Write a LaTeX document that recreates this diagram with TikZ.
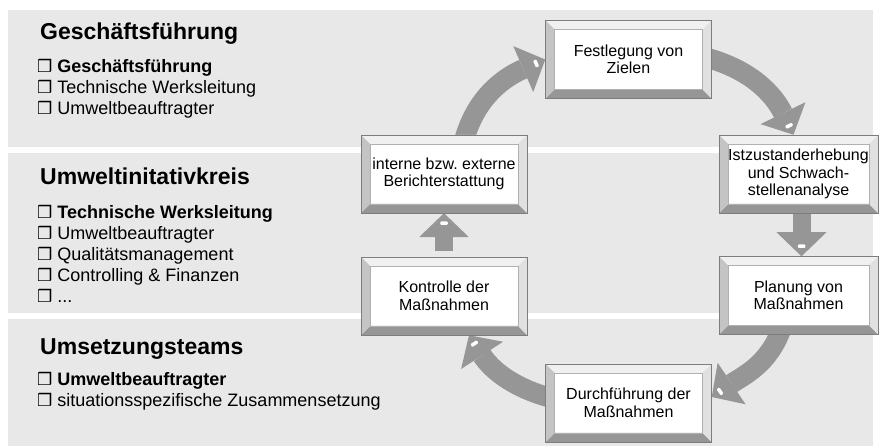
\documentclass[tikz,border=0pt]{standalone}
\usepackage{fontspec}
\setmainfont{Liberation Sans}
\newfontfamily\dingfont{DejaVu Sans}
\usetikzlibrary{arrows.meta,calc,backgrounds}

\definecolor{bandgray}{RGB}{232,232,232}
\definecolor{flowgray}{RGB}{150,150,150}
\definecolor{bvtop}{RGB}{240,240,240}
\definecolor{bvleft}{RGB}{196,196,196}
\definecolor{bvright}{RGB}{224,224,224}
\definecolor{bvbottom}{RGB}{150,150,150}
\definecolor{bvline}{RGB}{125,125,125}

\frenchspacing
\newcommand\headfont{\fontsize{23}{26}\selectfont\bfseries}
\newcommand\itemfont{\fontsize{18}{21}\selectfont}
\newcommand\boxfont{\fontsize{16}{17.5}\selectfont}
\newcommand\boxmark{{\dingfont\bfseries\fontsize{17}{21}\selectfont ❒}}

\begin{document}
\begin{tikzpicture}[x=1pt,y=1pt,
  band/.style={fill=bandgray, draw=none},
  heading/.style={anchor=base west, inner sep=0pt, font=\headfont},
  item/.style={anchor=base west, inner sep=0pt, font=\itemfont},
  stage/.style={minimum width=166pt, minimum height=78pt, inner sep=0pt,
    align=center, font=\boxfont, fill=white, draw=bvline, line width=0.5pt,
    path picture={
      \path (path picture bounding box.north west) coordinate (pNW)
            (path picture bounding box.north east) coordinate (pNE)
            (path picture bounding box.south west) coordinate (pSW)
            (path picture bounding box.south east) coordinate (pSE);
      \fill[bvtop] (pNW) -- (pNE) -- ($(pNE)+(-9,-9)$) -- ($(pNW)+(9,-9)$) -- cycle;
      \fill[bvbottom] (pSW) -- (pSE) -- ($(pSE)+(-9,9)$) -- ($(pSW)+(9,9)$) -- cycle;
      \fill[bvleft] (pNW) -- (pSW) -- ($(pSW)+(9,9)$) -- ($(pNW)+(9,-9)$) -- cycle;
      \fill[bvright] (pNE) -- (pSE) -- ($(pSE)+(-9,9)$) -- ($(pNE)+(-9,-9)$) -- cycle;
      \draw[bvline!60, line width=0.3pt] ($(pNW)+(9,-9)$) rectangle ($(pSE)+(-9,9)$);
    }},
  flow/.style={draw=flowgray, line width=20pt,
    -{Triangle[length=24pt, width=50pt, line width=0pt]}},
  straightflow/.style={flow, line width=18pt},
  glintmark/.style={fill=white, inner sep=0pt, minimum width=7.5pt,
    minimum height=3.5pt, rounded corners=1pt},
  ]
\useasboundingbox (0,0) rectangle (879,447);

% left column: groups and their members
\node[heading] (h1) at (40,407.7) {Geschäftsführung};
\node[item] (i11) at (37,374.5) {\boxmark\ \textbf{Geschäftsführung}};
\node[item] (i12) at (37,353.5) {\boxmark\ Technische Werksleitung};
\node[item] (i13) at (37,332.7) {\boxmark\ Umweltbeauftragter};

\node[heading] (h2) at (40,262) {Umweltinitativkreis};
\node[item] (i21) at (37,228.7) {\boxmark\ \textbf{Technische Werksleitung}};
\node[item] (i22) at (37,207.7) {\boxmark\ Umweltbeauftragter};
\node[item] (i23) at (37,186.7) {\boxmark\ Qualitätsmanagement};
\node[item] (i24) at (37,165.7) {\boxmark\ Controlling \& Finanzen};
\node[item] (i25) at (37,144.7) {\boxmark\ ...};

\node[heading] (h3) at (40,92.7) {Umsetzungsteams};
\node[item] (i31) at (37,61) {\boxmark\ \textbf{Umweltbeauftragter}};
\node[item] (i32) at (37,40.3) {\boxmark\ situationsspezifische Zusammensetzung};

% cycle stages
\node[stage] (b1) at (628.5,387.5) {Festlegung von\\Zielen};
\node[stage, minimum width=159pt] (b2) at (798.5,273) {Istzustanderhebung\\und Schwach-\\stellenanalyse};
\node[stage, minimum width=159pt] (b3) at (798.5,151.5) {Planung von\\Maßnahmen};
\node[stage] (b4) at (628.5,44) {Durchführung der\\Maßnahmen};
\node[stage] (b5) at (444,151) {Kontrolle der\\Maßnahmen};
\node[stage] (b6) at (444,273) {interne bzw. externe\\Berichterstattung};

\begin{pgfonlayer}{background}
  % grey bands
  \fill[band] (8,300) rectangle (873,437);
  \fill[band] (8,134) rectangle (873,294);
  \fill[band] (8,1) rectangle (873,128);

  % cycle arrows
  \draw[flow] ([xshift=20pt,yshift=-6pt]b6.north) to[out=75,in=203.5] (b1.west);
  \draw[flow] ([xshift=-6pt,yshift=2pt]b1.east) to[out=-15,in=116] ([xshift=-5pt]b2.north);
  \draw[straightflow] ([xshift=3pt,yshift=6pt]b2.south) -- ([xshift=3pt]b3.north);
  \draw[flow] ([xshift=-17pt,yshift=6pt]b3.south) to[out=-110,in=34] ([yshift=6pt]b4.east);
  \draw[flow] ([xshift=6pt,yshift=5pt]b4.west) to[out=165,in=-57] ([xshift=25pt]b5.south);
  \draw[straightflow] ([yshift=6pt]b5.north) -- (b6.south);
\end{pgfonlayer}

% highlights on the arrow heads
\node[glintmark, rotate=113.5] (g1) at ($(b1.west)+(203.5:10)$) {};
\node[glintmark, rotate=26] (g2) at ($([xshift=-5pt]b2.north)+(116:10)$) {};
\node[glintmark] (g3) at ($([xshift=3pt]b3.north)+(90:10)$) {};
\node[glintmark, rotate=-56] (g4) at ($([yshift=6pt]b4.east)+(34:10)$) {};
\node[glintmark, rotate=33] (g5) at ($([xshift=25pt]b5.south)+(-57:10)$) {};
\node[glintmark] (g6) at ($(b6.south)+(-90:10)$) {};
\end{tikzpicture}
\end{document}
